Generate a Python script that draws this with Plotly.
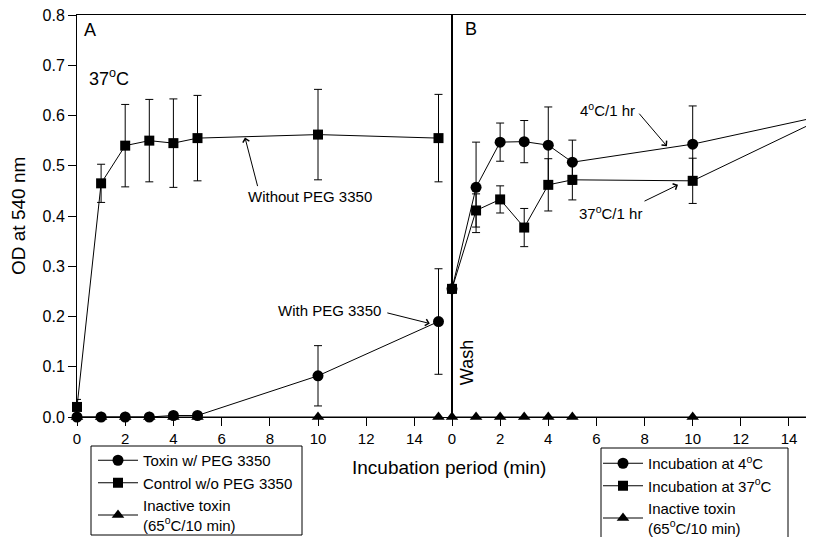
import plotly.graph_objects as go

# ---- data ----
times = [0, 1, 2, 3, 4, 5, 10, 15]

# Panel A
toxin_peg = [0, 0, 0, 0, 0.003, 0.003, 0.082, 0.19]
toxin_peg_err = [0, 0, 0, 0, 0, 0, 0.06, 0.105]
control_nopeg = [0.02, 0.465, 0.54, 0.55, 0.545, 0.555, 0.562, 0.555]
control_nopeg_err = [0.015, 0.038, 0.082, 0.082, 0.088, 0.085, 0.09, 0.087]
inactive_A = [0, 0, 0, 0, 0, 0, 0, 0]

# Panel B
inc_4c = [0.255, 0.457, 0.547, 0.548, 0.541, 0.507, 0.543, 0.595]
inc_4c_err = [0.005, 0.09, 0.038, 0.042, 0.076, 0.044, 0.076, 0.08]
inc_37c = [0.255, 0.411, 0.433, 0.377, 0.462, 0.472, 0.47, 0.585]
inc_37c_err = [0.005, 0.033, 0.027, 0.038, 0.052, 0.04, 0.045, 0.09]
inactive_B = [0, 0, 0, 0, 0, 0, 0, 0]

y_ticks = [0.0, 0.1, 0.2, 0.3, 0.4, 0.5, 0.6, 0.7, 0.8]
x_ticks = [0, 2, 4, 6, 8, 10, 12, 14]

FONT = "Arial, Liberation Sans, sans-serif"
BLK = "black"

fig = go.Figure()


def add(x, y, err, symbol, size, name, xa, ya, legend):
    fig.add_trace(go.Scatter(
        x=x, y=y, mode="lines+markers", name=name,
        xaxis=xa, yaxis=ya, legend=legend,
        line=dict(color=BLK, width=1),
        marker=dict(symbol=symbol, size=size, color=BLK),
        error_y=dict(type="data", array=err, visible=err is not None,
                     color=BLK, thickness=1, width=4),
        cliponaxis=False,
    ))


add(times, toxin_peg, toxin_peg_err, "circle", 11, "Toxin w/ PEG 3350", "x", "y", "legend")
add(times, control_nopeg, control_nopeg_err, "square", 10, "Control w/o PEG 3350", "x", "y", "legend")
add(times, inactive_A, None, "triangle-up", 11, "Inactive toxin<br>(65<sup>o</sup>C/10 min)", "x", "y", "legend")

add(times, inc_4c, inc_4c_err, "circle", 11, "Incubation at 4<sup>o</sup>C", "x2", "y2", "legend2")
add(times, inc_37c, inc_37c_err, "square", 10, "Incubation at 37<sup>o</sup>C", "x2", "y2", "legend2")
add(times, inactive_B, None, "triangle-up", 11, "Inactive toxin<br>(65<sup>o</sup>C/10 min)", "x2", "y2", "legend2")

# page body has an 8px margin; plot area on screen: x 77..814, y 15..417
OFF = 8
W, H = 814 - OFF, 537 - OFF
L, T = 77 - OFF, 15 - OFF
R = 0
B = H - (417 - OFF)
pw = W - L - R
ph = H - T - B
X0, Y0 = 77, 417  # screen px of plot-area left/bottom


def px(sx):
    return (sx - X0) / pw


def py(sy):
    return (Y0 - sy) / ph


dA = px(452)

axis_common = dict(showline=True, linecolor=BLK, linewidth=1, showgrid=False,
                   zeroline=False, ticks="outside", ticklen=8, tickcolor=BLK,
                   mirror=True, automargin=False, ticklabeloverflow="allow")

fig.update_layout(
    width=W, height=H,
    margin=dict(l=L, r=R, t=T, b=B, autoexpand=False),
    paper_bgcolor="white", plot_bgcolor="white",
    font=dict(family=FONT, color=BLK, size=15),
    xaxis=dict(domain=[0, dA], range=[0, 15.56], tickvals=x_ticks,
               tickfont=dict(size=15), anchor="y", **axis_common),
    yaxis=dict(domain=[0, 1], range=[0, 0.8], tickvals=y_ticks,
               tickformat=".1f", tickfont=dict(size=16), anchor="x",
               **axis_common),
    xaxis2=dict(domain=[dA, 1], range=[0, 15.04], tickvals=x_ticks,
                tickfont=dict(size=15), anchor="y2", **axis_common),
    yaxis2=dict(domain=[0, 1], range=[0, 0.8], anchor="x2",
                showline=True, linecolor=BLK, linewidth=1, showgrid=False,
                zeroline=False, ticks="", showticklabels=False, mirror=True,
                automargin=False),
    legend=dict(x=px(93), y=py(444), xanchor="left", yanchor="top",
                borderwidth=0, bgcolor="rgba(0,0,0,0)", itemwidth=40,
                font=dict(size=15), tracegroupgap=0),
    legend2=dict(x=px(598), y=py(447), xanchor="left", yanchor="top",
                 borderwidth=0, bgcolor="rgba(0,0,0,0)", itemwidth=40,
                 font=dict(size=15), tracegroupgap=0),
    showlegend=True,
    shapes=[
        dict(type="rect", xref="paper", yref="paper",
             x0=px(91), x1=px(302), y0=py(446), y1=py(535),
             line=dict(color=BLK, width=1), fillcolor="white", layer="above"),
        dict(type="rect", xref="paper", yref="paper",
             x0=px(601), x1=px(788), y0=py(448), y1=py(545),
             line=dict(color=BLK, width=1), fillcolor="white", layer="above"),
    ],
)

ann = []
# axis titles
ann.append(dict(text="OD at 540 nm", xref="paper", yref="paper",
                x=px(18), y=0.5, textangle=-90, showarrow=False,
                font=dict(size=19), xanchor="center", yanchor="middle"))
ann.append(dict(text="Incubation period (min)", xref="paper", yref="paper",
                x=px(449), y=py(467), showarrow=False,
                font=dict(size=19), xanchor="center", yanchor="middle"))
# panel labels
ann.append(dict(text="A", xref="x", yref="y", x=0.2, y=0.77, showarrow=False,
                font=dict(size=18), xanchor="left", yanchor="middle"))
ann.append(dict(text="37<sup>o</sup>C", xref="x", yref="y", x=0.41, y=0.675,
                showarrow=False, font=dict(size=18), xanchor="left", yanchor="middle"))
ann.append(dict(text="B", xref="x2", yref="y2", x=0.45, y=0.772, showarrow=False,
                font=dict(size=18), xanchor="left", yanchor="middle"))
ann.append(dict(text="Wash", xref="x2", yref="y2", x=0.62, y=0.109, textangle=-90,
                showarrow=False, font=dict(size=18), xanchor="center", yanchor="middle"))
# curve labels
ann.append(dict(text="Without PEG 3350", xref="x", yref="y", x=9.66, y=0.438,
                showarrow=False, font=dict(size=15)))
ann.append(dict(text="With PEG 3350", xref="x", yref="y", x=10.49, y=0.211,
                showarrow=False, font=dict(size=15)))
ann.append(dict(text="4<sup>o</sup>C/1 hr", xref="x2", yref="y2", x=6.48, y=0.611,
                showarrow=False, font=dict(size=15)))
ann.append(dict(text="37<sup>o</sup>C/1 hr", xref="x2", yref="y2", x=6.6, y=0.406,
                showarrow=False, font=dict(size=15)))
# arrows
arrow_style = dict(showarrow=True, arrowhead=4, arrowsize=1.3, arrowwidth=1,
                   arrowcolor=BLK, text="", standoff=0, startstandoff=0)
ann.append(dict(xref="x", yref="y", x=6.97, y=0.556, ax=13, ay=50, **arrow_style))
ann.append(dict(xref="x", yref="y", x=14.64, y=0.186, ax=-44, ay=-11, **arrow_style))
ann.append(dict(xref="x2", yref="y2", x=8.93, y=0.539, ax=-29, ay=-34, **arrow_style))
ann.append(dict(xref="x2", yref="y2", x=9.39, y=0.462, ax=-35, ay=17, **arrow_style))

fig.update_layout(annotations=ann)

fig.write_html("out.html")
